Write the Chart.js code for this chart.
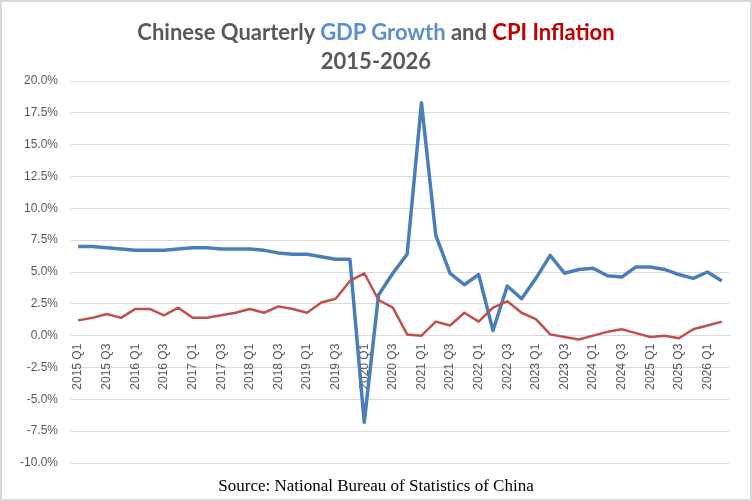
<!DOCTYPE html>
<html>
<head>
<meta charset="utf-8">
<script src="https://cdn.jsdelivr.net/npm/chart.js@4"></script>
<style>
  html, body { margin: 0; padding: 0; background: #fff; }
  #wrap { position: relative; width: 752px; height: 501px; box-sizing: border-box; border: 2px solid #d9d9d9; background: #fff; overflow: hidden; }
  #chart { position: absolute; left: -2px; top: -2px; }
  .title { position: absolute; left: 0; width: 748px; text-align: center; font-family: Lato, sans-serif; font-weight: bold; font-size: 22px; color: #595959; }
  .gdp { color: #5b8fd0; }
  .cpi { color: #c00000; }
  #source { position: absolute; left: 0; width: 748px; top: 474px; text-align: center; font-family: "Liberation Serif", serif; font-size: 17px; color: #000; }
</style>
</head>
<body>
<div id="wrap">
  <canvas id="chart" width="752" height="501"></canvas>
  <div class="title" style="top:16px">Chinese Quarterly <span class="gdp">GDP Growth</span> and <span class="cpi">CPI Inflation</span></div>
  <div class="title" style="top:45px">2015-2026</div>
  <div id="source">Source: National Bureau of Statistics of China</div>
</div>
<script>
// Quarters 2015 Q1 .. 2026 Q2
const years = ['2015', '2016', '2017', '2018', '2019', '2020', '2021', '2022', '2023', '2024', '2025', '2026'];
const quarters = [];
years.forEach(function(y) {
    ['Q1', 'Q2', 'Q3', 'Q4'].forEach(function(q) {
        if (quarters.length < 46) quarters.push(y + ' ' + q);
    });
});

// GDP growth, % year on year
const gdpGrowth = [
    7.0, 7.0, 6.9, 6.8,
    6.7, 6.7, 6.7, 6.8,
    6.9, 6.9, 6.8, 6.8,
    6.8, 6.7, 6.5, 6.4,
    6.4, 6.2, 6.0, 6.0,
    -6.8, 3.2, 4.9, 6.4,
    18.3, 7.9, 4.9, 4.0,
    4.8, 0.4, 3.9, 2.9,
    4.5, 6.3, 4.9, 5.2,
    5.3, 4.7, 4.6, 5.4,
    5.4, 5.2, 4.8, 4.5,
    5.0, 4.3
];

// CPI inflation, % year on year
const cpiInflation = [
    1.2, 1.4, 1.7, 1.4,
    2.1, 2.1, 1.6, 2.2,
    1.4, 1.4, 1.6, 1.8,
    2.1, 1.8, 2.3, 2.1,
    1.8, 2.6, 2.9, 4.3,
    4.9, 2.8, 2.2, 0.1,
    0.0, 1.1, 0.8, 1.8,
    1.1, 2.2, 2.7, 1.8,
    1.3, 0.1, -0.1, -0.3,
    0.0, 0.3, 0.5, 0.2,
    -0.1, 0.0, -0.2, 0.5,
    0.8, 1.1
];

const yMin = -10, yMax = 20, yStep = 2.5;

const ctx = document.getElementById('chart').getContext('2d');
new Chart(ctx, {
    type: 'line',
    data: {
        labels: quarters,
        datasets: [{
            label: 'GDP Growth',
            data: gdpGrowth,
            borderColor: '#4a7ebb',
            borderWidth: 3.5,
            borderJoinStyle: 'round',
            pointRadius: 0,
            tension: 0,
            order: 1
        }, {
            label: 'CPI Inflation',
            data: cpiInflation,
            borderColor: '#c0504d',
            borderWidth: 2.5,
            borderJoinStyle: 'round',
            pointRadius: 0,
            tension: 0,
            order: 0
        }]
    },
    options: {
        responsive: false,
        animation: false,
        layout: { padding: { top: 81, bottom: 38, left: 0, right: 23 } },
        plugins: {
            legend: { display: false },
            title: { display: false },
            tooltip: { enabled: false }
        },
        scales: {
            x: {
                position: { y: 0 },
                offset: true,
                grid: { display: false, drawTicks: false },
                border: { display: true, color: '#d9d9d9', width: 1 },
                ticks: {
                    autoSkip: false,
                    maxRotation: 90,
                    minRotation: 90,
                    padding: 8,
                    color: '#595959',
                    font: { family: 'Liberation Sans', size: 12 },
                    callback: function(value, index) {
                        return index % 2 === 0 ? quarters[index] : '';
                    }
                }
            },
            y: {
                min: yMin,
                max: yMax,
                afterFit: function(scale) { scale.width = 71; },
                grid: { color: '#d9d9d9', lineWidth: 1, drawTicks: false },
                border: { display: false },
                ticks: {
                    stepSize: yStep,
                    padding: 13,
                    color: '#595959',
                    font: { family: 'Liberation Sans', size: 12 },
                    callback: function(v) { return v.toFixed(1) + '%'; }
                }
            }
        }
    }
});
</script>
</body>
</html>
